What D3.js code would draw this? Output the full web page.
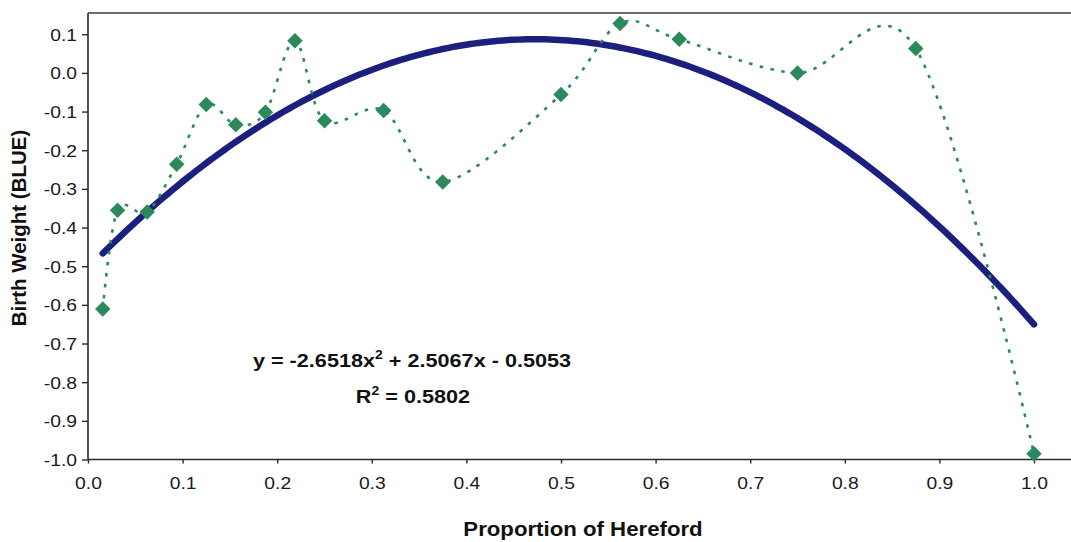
<!DOCTYPE html>
<html>
<head>
<meta charset="utf-8">
<script src="https://cdn.jsdelivr.net/npm/d3@7"></script>
<style>
  html, body { margin: 0; padding: 0; background: #fff; }
  svg { display: block; }
</style>
</head>
<body>
<svg id="chart" width="1071" height="542"></svg>
<script>
// Proportion of Hereford in the cross, and the breed-group BLUE for birth weight
const proportion = [0.015625, 0.03125, 0.0625, 0.09375, 0.125, 0.15625, 0.1875, 0.21875,
                    0.25, 0.3125, 0.375, 0.5, 0.5625, 0.625, 0.75, 0.875, 1.0];
const birthWeight = [-0.611, -0.355, -0.360, -0.236, -0.082, -0.134, -0.102, 0.083,
                     -0.124, -0.097, -0.282, -0.056, 0.128, 0.087, 0.000, 0.063, -0.985];

// Quadratic trend: y = a x^2 + b x + c
const trendCoef = [-2.6518, 2.5067, -0.5053];
const trendLabel = "y = -2.6518x";
const r2Value = "0.5802";

const xTicks = [0, 0.1, 0.2, 0.3, 0.4, 0.5, 0.6, 0.7, 0.8, 0.9, 1.0];
const yTicks = [0.1, 0, -0.1, -0.2, -0.3, -0.4, -0.5, -0.6, -0.7, -0.8, -0.9, -1.0];

const svg = d3.select("#chart");
const W = 1071, H = 542;
const plot = { left: 88, top: 13, bottom: 459.5 };
const stretch = 1.17;   // text is set slightly wide

const x = d3.scaleLinear().domain([0, 1]).range([plot.left, 1034]);
const y = d3.scaleLinear().domain([-1, 0.155]).range([plot.bottom, plot.top]);

const font = "Arial, 'Liberation Sans', sans-serif";
const green = "#2a8a5c";
const navy = "#1d1f7e";
const fmt = d => d3.format(".1f")(d).replace("\u2212", "-");

// top frame line
svg.append("line")
  .attr("x1", plot.left).attr("x2", W)
  .attr("y1", plot.top).attr("y2", plot.top)
  .attr("stroke", "#6e6e6e").attr("stroke-width", 2);

// y axis
const yAxis = svg.append("g")
  .attr("transform", `translate(${plot.left},0)`)
  .call(d3.axisLeft(y).tickValues(yTicks).tickFormat(fmt).tickSize(6).tickSizeOuter(0));
yAxis.select(".domain").attr("stroke", "#2a2a2a").attr("stroke-width", 1.6)
  .attr("d", `M0,${plot.top}V${plot.bottom}`);
yAxis.selectAll(".tick line").attr("stroke", "#2a2a2a").attr("stroke-width", 1.4);
yAxis.selectAll(".tick text")
  .attr("x", -11 / stretch).attr("dy", "0.36em")
  .attr("transform", `scale(${stretch},1)`)
  .attr("fill", "#1a1a1a").style("font-family", font).style("font-size", "16.5px");

// x axis
const xAxis = svg.append("g")
  .attr("transform", `translate(0,${plot.bottom})`)
  .call(d3.axisBottom(x).tickValues(xTicks).tickFormat(fmt).tickSize(4).tickSizeOuter(0));
xAxis.select(".domain").attr("stroke", "#2a2a2a").attr("stroke-width", 1.6)
  .attr("d", `M${plot.left},0H${W}`);
xAxis.selectAll(".tick line").attr("stroke", "#2a2a2a").attr("stroke-width", 1.4);
xAxis.selectAll(".tick text")
  .attr("y", 24).attr("dy", "0.36em")
  .attr("transform", `scale(${stretch},1)`)
  .attr("fill", "#1a1a1a").style("font-family", font).style("font-size", "16.5px");

// fitted quadratic trend line
const [a, b, c] = trendCoef;
const trendPts = d3.range(0, 201).map(i => {
  const xv = proportion[0] + (1 - proportion[0]) * i / 200;
  return [xv, a * xv * xv + b * xv + c];
});
svg.append("path")
  .datum(trendPts)
  .attr("fill", "none")
  .attr("stroke", navy)
  .attr("stroke-width", 6.5)
  .attr("stroke-linecap", "round")
  .attr("d", d3.line().x(d => x(d[0])).y(d => y(d[1])));

// smoothed dotted series line
const pts = proportion.map((p, i) => [p, birthWeight[i]]);
svg.append("path")
  .datum(pts)
  .attr("fill", "none")
  .attr("stroke", green)
  .attr("stroke-width", 2.6)
  .attr("stroke-dasharray", "3.5,7.5")
  .attr("d", d3.line().x(d => x(d[0])).y(d => y(d[1])).curve(d3.curveCardinal.tension(0)));

// diamond markers
svg.append("g").selectAll("path")
  .data(pts)
  .join("path")
  .attr("d", d3.symbol(d3.symbolSquare, 120)())
  .attr("transform", d => `translate(${x(d[0])},${y(d[1])}) rotate(45)`)
  .attr("fill", green);

// stretched bold text helper
function boldText(cx, cy, size) {
  return svg.append("text")
    .attr("transform", `translate(${cx},${cy}) scale(${stretch},1)`)
    .attr("text-anchor", "middle")
    .style("font-family", font).style("font-size", size + "px").style("font-weight", "bold")
    .attr("fill", "#111");
}

// regression annotation
const eq = boldText(412, 367, 18.5);
eq.append("tspan").text(trendLabel);
eq.append("tspan").attr("dy", -8).style("font-size", "12px").text("2");
eq.append("tspan").attr("dy", 8).text(" + 2.5067x - 0.5053");

const r2 = boldText(413, 403, 18.5);
r2.append("tspan").text("R");
r2.append("tspan").attr("dy", -8).style("font-size", "12px").text("2");
r2.append("tspan").attr("dy", 8).text(" = " + r2Value);

// axis titles
svg.append("text")
  .attr("transform", `translate(583,536) scale(1.14,1)`)
  .attr("text-anchor", "middle")
  .style("font-family", font).style("font-size", "19.5px").style("font-weight", "bold")
  .attr("fill", "#111")
  .text("Proportion of Hereford");

svg.append("text")
  .attr("transform", "translate(26,228) rotate(-90)")
  .attr("text-anchor", "middle")
  .style("font-family", font).style("font-size", "20.5px").style("font-weight", "bold")
  .attr("fill", "#111")
  .text("Birth Weight (BLUE)");
</script>
</body>
</html>
